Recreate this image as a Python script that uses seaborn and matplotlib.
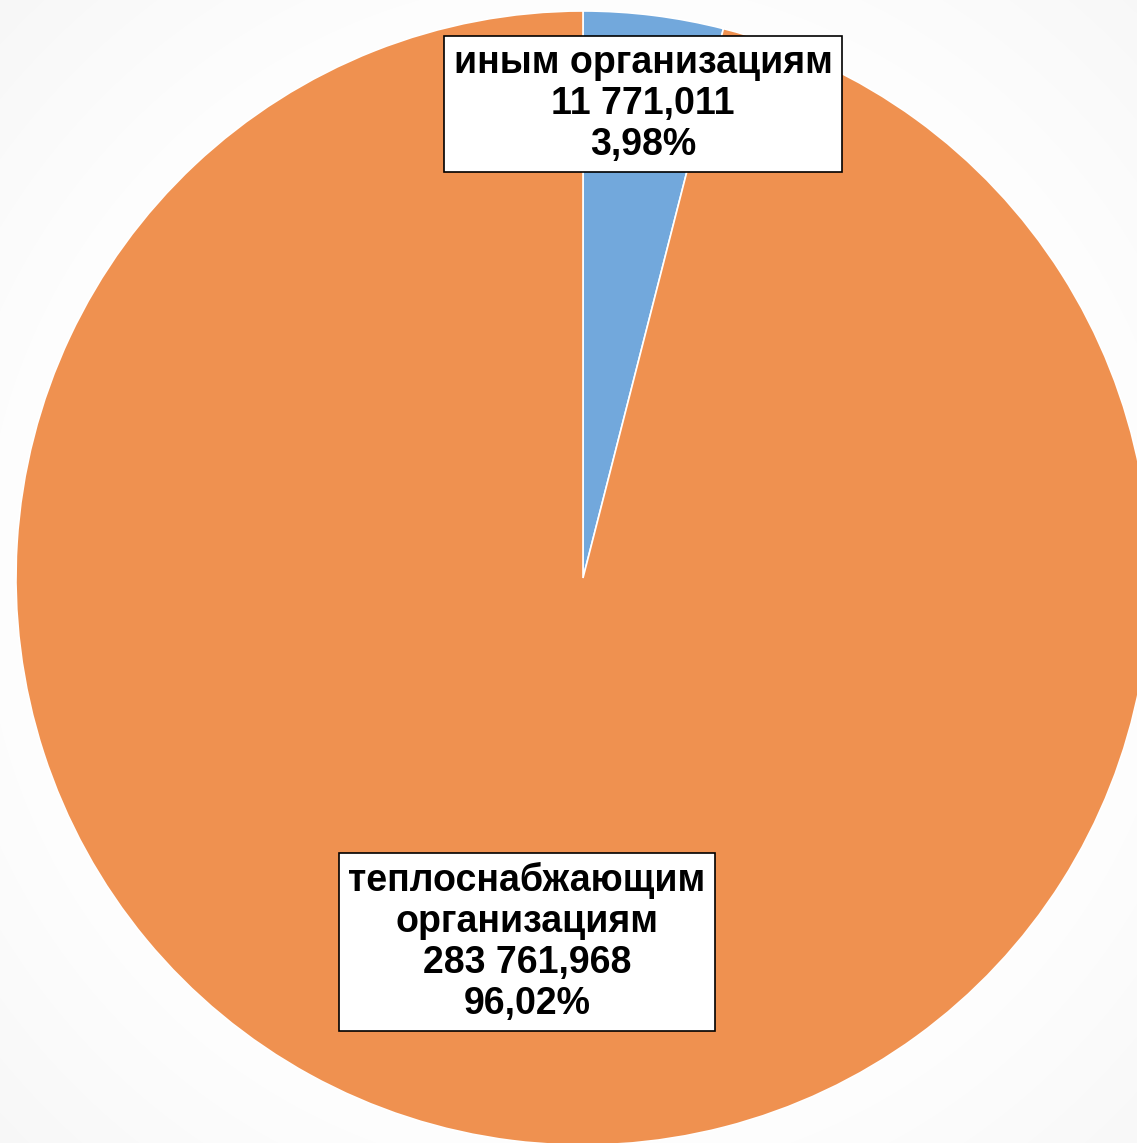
import numpy as np
import matplotlib
matplotlib.use("Agg")
import matplotlib.pyplot as plt
import seaborn as sns

# data
categories = ["иным организациям", "теплоснабжающим\nорганизациям"]
values = [11771.011, 283761.968]
colors = ["#72A8DC", "#EF9150"]

sns.set_style("white")
plt.rcParams['font.family'] = ['Liberation Sans', 'DejaVu Sans']


def fmt_num(v):
    s = f"{v:,.3f}"
    return s.replace(",", " ").replace(".", ",")


total = sum(values)
pcts = [v / total * 100 for v in values]

W, H = 1137, 1143
fig = plt.figure(figsize=(W / 100, H / 100), dpi=100)

# soft grey vignette behind the pie
bg = fig.add_axes([0, 0, 1, 1], zorder=0)
yy, xx = np.mgrid[0:H, 0:W]
d = np.hypot(xx - 583, yy - 578) / 820
shade = 1 - 0.09 * np.clip(d - 0.55, 0, None) ** 1.2
bg.imshow(shade, cmap="gray", vmin=0, vmax=1, aspect="auto")
bg.axis("off")

cx, cy, r = 583, 578, 567
ax = fig.add_axes([0, 0, 1, 1], zorder=1)
ax.patch.set_alpha(0)
ax.pie(values, colors=colors, startangle=90, counterclock=False,
       radius=1, wedgeprops=dict(edgecolor="white", linewidth=1.2))
ax.set_xlim(-cx / r, (W - cx) / r)
ax.set_ylim(-(H - cy) / r, cy / r)
ax.set_aspect("equal")
ax.axis("off")

label_pos = [(60 / r, 474 / r), (-56 / r, -364 / r)]
for cat, v, p, (lx, ly) in zip(categories, values, pcts, label_pos):
    txt = f"{cat}\n{fmt_num(v)}\n{p:.2f}%".replace(".", ",")
    ax.text(lx, ly, txt, ha="center", va="center", fontsize=27,
            fontweight="bold", linespacing=1.17, color="black",
            bbox=dict(boxstyle="square,pad=0.25", facecolor="white",
                      edgecolor="black", linewidth=1.2))

fig.savefig("out.png", dpi=100)
